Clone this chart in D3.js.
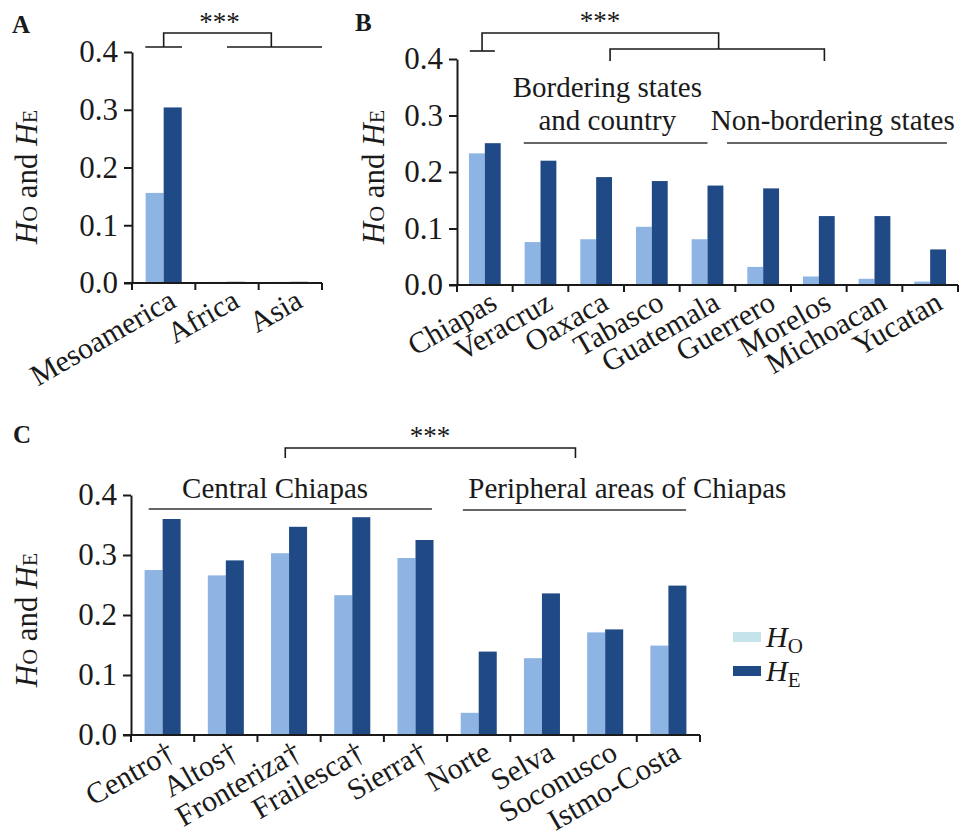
<!DOCTYPE html>
<html>
<head>
<meta charset="utf-8">
<script src="https://cdn.jsdelivr.net/npm/d3@7"></script>
<style>
  body { margin: 0; background: #fff; }
</style>
</head>
<body>
<svg id="chart"></svg>
<script>
// Data
const catsA = ['Mesoamerica', 'Africa', 'Asia'];
const hoA = [0.156, 0.002, 0.002];
const heA = [0.304, 0.003, 0.003];

const catsB = ['Chiapas', 'Veracruz', 'Oaxaca', 'Tabasco', 'Guatemala', 'Guerrero', 'Morelos', 'Michoacan', 'Yucatan'];
const hoB = [0.233, 0.076, 0.081, 0.103, 0.081, 0.032, 0.015, 0.011, 0.006];
const heB = [0.251, 0.220, 0.191, 0.184, 0.176, 0.171, 0.122, 0.122, 0.063];

const catsC = ['Centro\u2020', 'Altos\u2020', 'Fronteriza\u2020', 'Frailesca\u2020', 'Sierra\u2020', 'Norte', 'Selva', 'Soconusco', 'Istmo-Costa'];
const hoC = [0.275, 0.266, 0.303, 0.233, 0.295, 0.037, 0.128, 0.171, 0.149];
const heC = [0.360, 0.291, 0.347, 0.363, 0.325, 0.139, 0.236, 0.176, 0.249];

const yTicks = [0, 0.1, 0.2, 0.3, 0.4];
const seriesKeys = ['Ho', 'He'];

// Colours and font
const colHo = '#8db4e2';
const colHe = '#1f4a85';
const colHoLegend = '#c5e3ea';
const ink = '#1a1a1a';
const FONT = '"Times New Roman", "Liberation Serif", Times, serif';

const svg = d3.select('#chart')
    .attr('width', 969)
    .attr('height', 838)
    .style('display', 'block');

svg.append('rect').attr('width', 969).attr('height', 838).attr('fill', '#fff');

function label(sel, size) {
    return sel.attr('fill', ink)
        .style('font-family', FONT)
        .style('font-size', size + 'px');
}

function drawPanel(cfg, cats, ho, he) {
    const g = svg.append('g');
    const x = d3.scaleBand().domain(cats).range([cfg.x0, cfg.x1])
        .paddingInner(0.43).paddingOuter(0.215);
    const sub = d3.scaleBand().domain(seriesKeys).range([0, x.bandwidth()]);
    const y = d3.scaleLinear().domain([0, 0.4]).range([cfg.yBottom, cfg.yTop]);

    const rows = cats.map((c, i) => ({ cat: c, Ho: ho[i], He: he[i] }));

    // bars
    g.selectAll('g.pair')
        .data(rows)
        .enter()
        .append('g')
        .attr('transform', d => `translate(${x(d.cat)},0)`)
        .selectAll('rect')
        .data(d => seriesKeys.map(k => ({ key: k, value: d[k] })))
        .enter()
        .append('rect')
        .attr('x', d => sub(d.key))
        .attr('width', sub.bandwidth())
        .attr('y', d => y(d.value))
        .attr('height', d => Math.max(0.6, y(0) - y(d.value)))
        .attr('fill', d => d.value < 0.005 ? '#c8c8c8' : (d.key === 'Ho' ? colHo : colHe));

    // y axis
    const yAxis = g.append('g')
        .attr('transform', `translate(${cfg.x0},0)`)
        .call(d3.axisLeft(y).tickValues(yTicks).tickFormat(d3.format('.1f'))
            .tickSize(8).tickSizeOuter(0).tickPadding(6));
    yAxis.attr('font-family', null).attr('font-size', null);
    yAxis.select('.domain').attr('stroke', ink).attr('stroke-width', 2);
    yAxis.selectAll('.tick line').attr('stroke', ink).attr('stroke-width', 2);
    label(yAxis.selectAll('.tick text'), 31);

    // x axis with ticks at band boundaries
    g.append('line')
        .attr('x1', cfg.x0 - 8).attr('x2', cfg.x1)
        .attr('y1', y(0)).attr('y2', y(0))
        .attr('stroke', ink).attr('stroke-width', 2);
    g.selectAll('line.xtick')
        .data(d3.range(cats.length + 1))
        .enter()
        .append('line')
        .attr('class', 'xtick')
        .attr('x1', i => cfg.x0 + i * x.step())
        .attr('x2', i => cfg.x0 + i * x.step())
        .attr('y1', y(0)).attr('y2', y(0) + 7)
        .attr('stroke', ink).attr('stroke-width', 2);

    label(g.selectAll('text.xlab')
        .data(cats)
        .enter()
        .append('text')
        .attr('class', 'xlab')
        .attr('transform', d => `translate(${x(d) + x.bandwidth() / 2 + 14},${y(0) + 23}) rotate(-30)`)
        .attr('text-anchor', 'end')
        .text(d => d), 30);

    // y title
    const t = label(g.append('text')
        .attr('transform', `translate(${cfg.titleX},${cfg.titleY}) rotate(-90)`)
        .attr('text-anchor', 'middle'), 31);
    t.append('tspan').style('font-style', 'italic').text('H');
    t.append('tspan').style('font-size', '22px').text('O');
    t.append('tspan').text(' and ');
    t.append('tspan').style('font-style', 'italic').text('H');
    t.append('tspan').style('font-size', '22px').text('E');

    // panel letter
    label(g.append('text')
        .attr('x', cfg.letterX).attr('y', cfg.letterY)
        .style('font-weight', 'bold')
        .text(cfg.letter), 25);

    // position helper in band steps
    const at = s => cfg.x0 + s * x.step();

    // significance bracket
    const line = d3.line();
    (cfg.brackets || []).forEach(b => {
        g.append('path')
            .attr('d', line(b.map(p => [at(p[0]), p[1]])))
            .attr('fill', 'none').attr('stroke', ink).attr('stroke-width', 1.6);
    });
    if (cfg.stars) {
        label(g.append('text')
            .attr('x', at(cfg.stars[0])).attr('y', cfg.stars[1])
            .attr('text-anchor', 'middle')
            .text('***'), 27);
    }

    // group labels
    (cfg.groups || []).forEach(gr => {
        gr.lines.forEach((txt, i) => {
            label(g.append('text')
                .attr('x', at(gr.cx)).attr('y', gr.y + i * 33)
                .attr('text-anchor', 'middle')
                .text(txt), 29);
        });
        g.append('line')
            .attr('x1', at(gr.from)).attr('x2', at(gr.to))
            .attr('y1', gr.lineY).attr('y2', gr.lineY)
            .attr('stroke', '#333').attr('stroke-width', 1.6);
    });
}

drawPanel({
    x0: 132, x1: 322, yBottom: 283, yTop: 52,
    titleX: 37, titleY: 177, letter: 'A', letterX: 12, letterY: 33,
    brackets: [
        [[0.21, 47], [0.79, 47]],
        [[0.5, 47], [0.5, 33], [2.2, 33], [2.2, 47]],
        [[1.5, 47], [3.0, 47]]
    ],
    stars: [1.38, 31]
}, catsA, hoA, heA);

drawPanel({
    x0: 457, x1: 958, yBottom: 285, yTop: 59,
    titleX: 384, titleY: 177, letter: 'B', letterX: 355, letterY: 31,
    brackets: [
        [[0.23, 51], [0.68, 51]],
        [[0.45, 51], [0.45, 33], [4.7, 33], [4.7, 49]],
        [[2.75, 61], [2.75, 49], [6.6, 49], [6.6, 61]]
    ],
    stars: [2.57, 30],
    groups: [
        { lines: ['Bordering states', 'and country'], cx: 2.7, y: 97, from: 1.2, to: 4.5, lineY: 143 },
        { lines: ['Non-bordering states'], cx: 6.75, y: 130, from: 4.85, to: 8.8, lineY: 143 }
    ]
}, catsB, hoB, heB);

drawPanel({
    x0: 131, x1: 700, yBottom: 735, yTop: 495,
    titleX: 37, titleY: 620, letter: 'C', letterX: 13, letterY: 443,
    brackets: [
        [[2.44, 458], [2.44, 448], [7.03, 448], [7.03, 458]]
    ],
    stars: [4.73, 445],
    groups: [
        { lines: ['Central Chiapas'], cx: 2.28, y: 498, from: 0.28, to: 4.76, lineY: 509 },
        { lines: ['Peripheral areas of Chiapas'], cx: 7.85, y: 498, from: 5.25, to: 8.78, lineY: 510 }
    ]
}, catsC, hoC, heC);

// Legend
const legend = svg.append('g');
const legendItems = [
    { sub: 'O', color: colHoLegend, y: 632 },
    { sub: 'E', color: colHe, y: 666 }
];
legendItems.forEach(item => {
    legend.append('rect')
        .attr('x', 733).attr('y', item.y)
        .attr('width', 28).attr('height', 10)
        .attr('fill', item.color);
    const lt = label(legend.append('text')
        .attr('x', 766).attr('y', item.y + 15), 30);
    lt.append('tspan').style('font-style', 'italic').text('H');
    lt.append('tspan').attr('dy', 6).style('font-size', '21px').text(item.sub);
});
</script>
</body>
</html>
